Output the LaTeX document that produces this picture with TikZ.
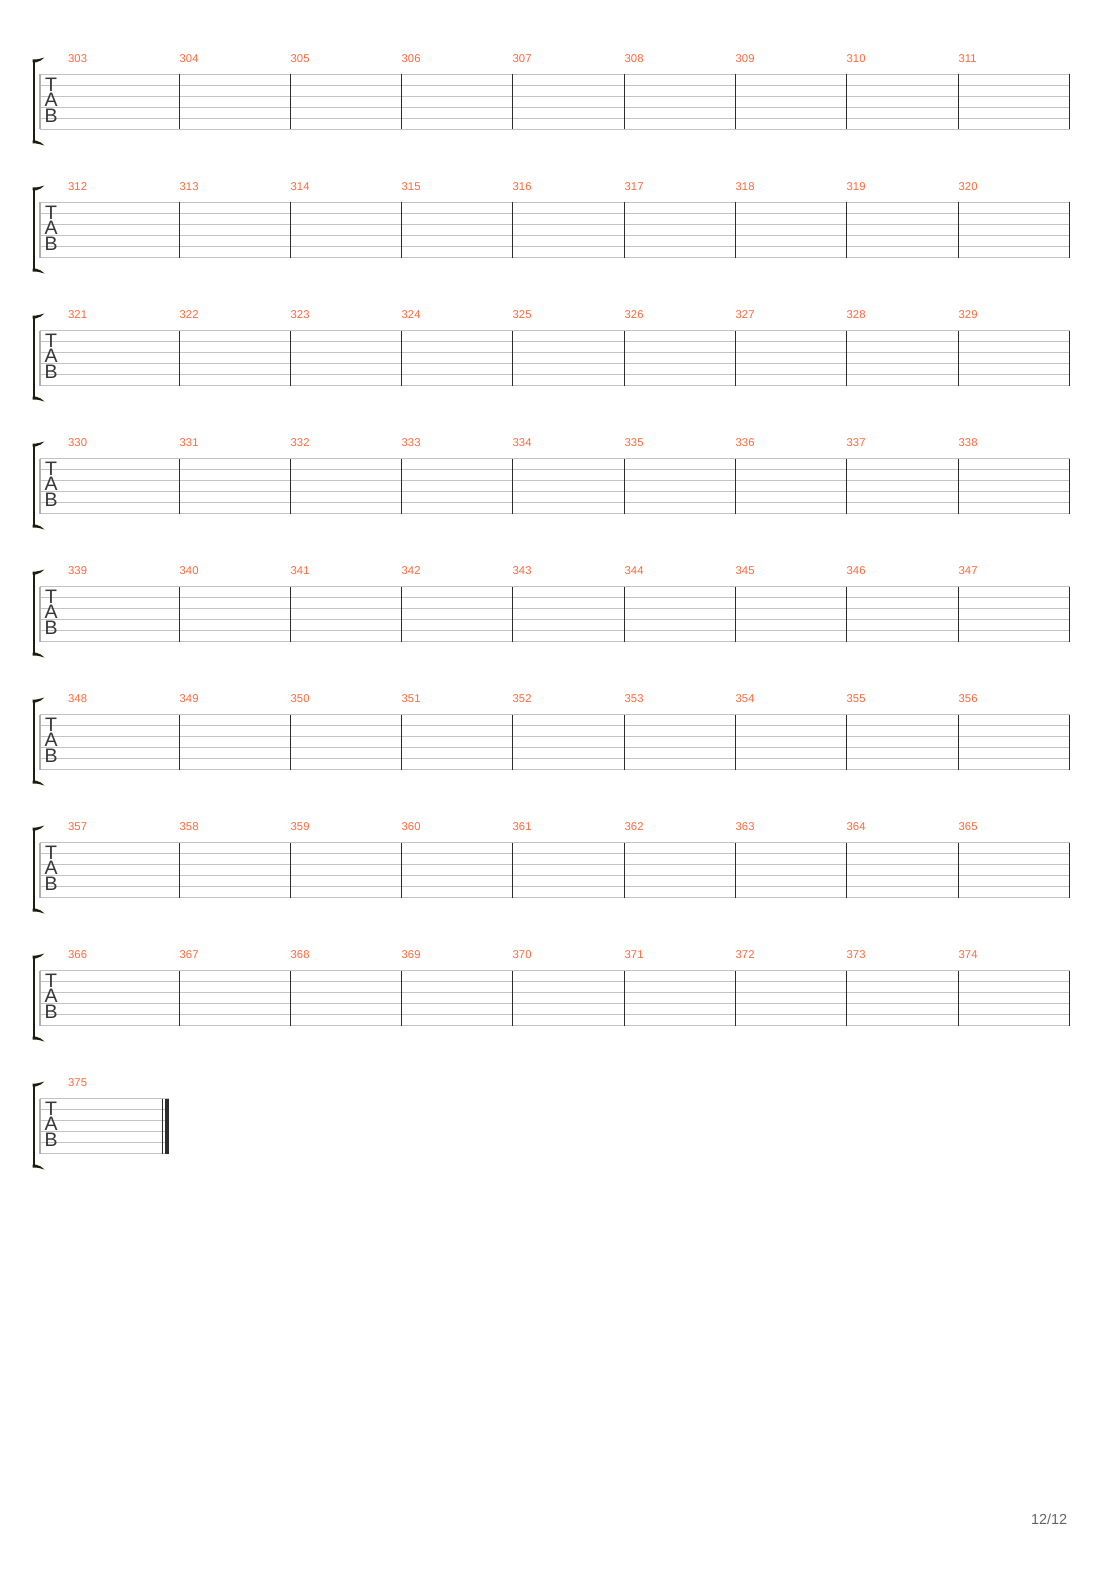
\documentclass[tikz,border=0pt]{standalone}
\usepackage{fontspec}
\setmainfont{Liberation Sans}
\definecolor{numorange}{RGB}{255,105,60}
\definecolor{staffgray}{RGB}{195,195,195}
\definecolor{barblack}{RGB}{45,45,45}
\definecolor{brackdark}{RGB}{30,30,15}
\definecolor{tabgray}{RGB}{55,55,55}
\definecolor{pagegray}{RGB}{100,100,100}
\tikzset{
  staffline/.style={draw=staffgray,line width=1pt},
  barline/.style={draw=barblack,line width=1.2pt},
  firstline/.style={draw=staffgray!90!black,line width=1.5pt},
  bracketline/.style={draw=brackdark,line width=2.8pt},
  bracketcap/.style={fill=brackdark},
  measnum/.style={anchor=base west,inner sep=0pt,text=numorange,font=\fontsize{11.3}{13}\selectfont},
  tabletters/.style={anchor=north,inner sep=0pt,align=center,text=tabgray,font=\fontsize{19.5}{15.7}\selectfont},
  pagenum/.style={anchor=base east,inner sep=0pt,text=pagegray,font=\fontsize{14.5}{16}\selectfont}
}
\begin{document}
\begin{tikzpicture}[x=1pt,y=-1pt]
\useasboundingbox[fill=white] (0,0) rectangle (1110,1570);
\foreach \s in {0,...,8}{
  \pgfmathsetmacro{\top}{74.5+128*\s}
  \pgfmathsetmacro{\rightx}{\s==8 ? 168.5 : 1070}
  % staff lines
  \foreach \l in {0,...,5}{
    \draw[staffline] (40,\top+11*\l) -- (\rightx,\top+11*\l);
  }
  % left line
  \draw[firstline] (39.8,\top) -- (39.8,\top+55);
  % bracket
  \draw[bracketline] (34,\top-13.5) -- (34,\top+66.5);
  \fill[bracketcap] (32.6,\top-15) -- (36,\top-15) .. controls (40,\top-15.5) and (42,\top-16.5) .. (44.5,\top-17) .. controls (42,\top-14.5) and (39,\top-12.5) .. (35.4,\top-12) -- (32.6,\top-12) -- cycle;
  \fill[bracketcap] (32.6,\top+69) -- (36,\top+69) .. controls (40,\top+69.5) and (42,\top+70.5) .. (44.5,\top+71) .. controls (42,\top+68.5) and (39,\top+66.5) .. (35.4,\top+66) -- (32.6,\top+66) -- cycle;
  % TAB
  \node[tabletters] (tab\s) at (51.2,\top+3) {T\\A\\B};
  % first measure number
  \pgfmathtruncatemacro{\first}{303+9*\s}
  \node[measnum] (m\first) at (68,\top-12.3) {\first};
}
% barlines and numbers for full systems
\foreach \s in {0,...,7}{
  \pgfmathsetmacro{\top}{74.5+128*\s}
  \foreach \k in {1,...,9}{
    \pgfmathsetmacro{\bx}{floor(179+(\k-1)*111.3)+0.5}
    \draw[barline] (\bx,\top) -- (\bx,\top+55);
    \ifnum\k<9
      \pgfmathtruncatemacro{\num}{303+9*\s+\k}
      \node[measnum] (m\num) at (\bx,\top-12.3) {\num};
    \fi
  }
}
% final barline on last system
\draw[draw=barblack,line width=1pt] (162.5,1098.5) -- (162.5,1153.5);
\draw[draw=barblack,line width=3.5pt] (166.8,1098.5) -- (166.8,1153.5);
% page number
\node[pagenum] (page) at (1067.5,1524.5) {12/12};
\end{tikzpicture}
\end{document}
